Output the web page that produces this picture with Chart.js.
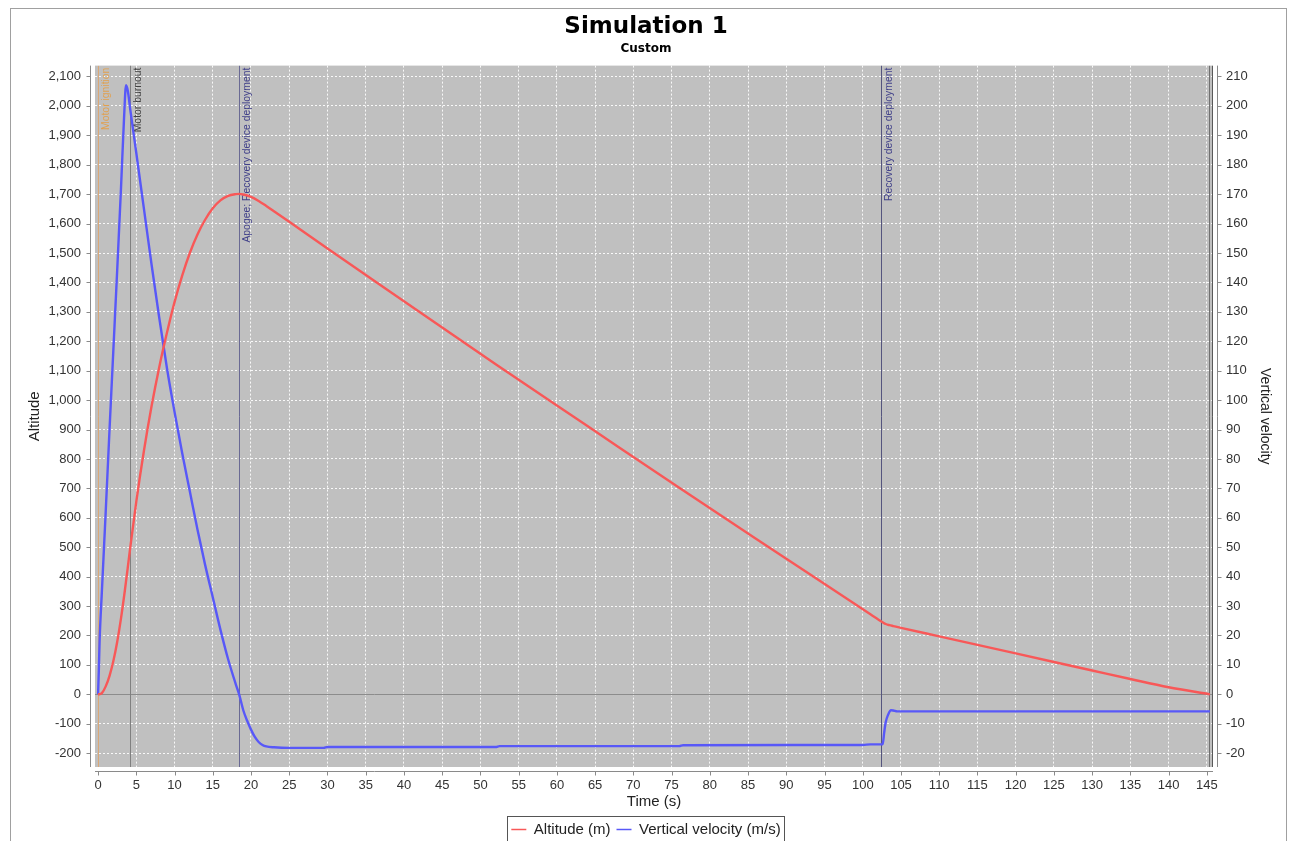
<!DOCTYPE html>
<html>
<head>
<meta charset="utf-8">
<title>Simulation 1</title>
<script src="https://cdn.jsdelivr.net/npm/chart.js@4.4.1/dist/chart.umd.min.js"></script>
<style>
    html, body { margin: 0; padding: 0; background: #fff; overflow: hidden; }
    #wrap { width: 1292px; height: 841px; overflow: hidden; }
</style>
</head>
<body>
<div id="wrap"><canvas id="simChart" width="1292" height="851"></canvas></div>
<script>
// Altitude (m) against time (s)
const altitudeTime = [0, 0.25, 0.5, 1, 1.5, 2, 2.5, 3, 3.5, 4, 4.2, 5, 6, 7, 8, 9, 10, 11, 12, 13, 14, 15, 16, 17, 18, 18.45, 19, 20, 21, 22, 23, 25, 30, 40, 52, 64, 76, 90, 101, 102.6, 103, 103.5, 104, 105, 110, 115, 120, 125, 130, 135, 140, 145.4];
const altitudeValues = [0, 1, 4, 27, 63, 113, 178, 258, 352, 455, 497, 655, 828, 980, 1112, 1228, 1333, 1423, 1500, 1563, 1613, 1652, 1679, 1694, 1700, 1701, 1699, 1691, 1677, 1660, 1642, 1606, 1515, 1336, 1122, 912, 702, 461, 272, 245, 239, 235, 232, 226, 197, 168, 139, 110, 81, 52, 24, 0];

// Vertical velocity (m/s) against time (s)
const velocityTime = [0, 0.1, 0.2, 0.5, 1, 1.5, 2, 2.5, 3, 3.4, 3.66, 3.9, 4.2, 5, 6, 7, 8, 9, 10, 11, 12, 13, 14, 15, 16, 17, 18, 18.45, 19, 19.5, 20, 20.5, 21, 21.5, 22, 23, 25, 29.5, 30, 52, 52.5, 76, 76.5, 100, 101, 102.6, 102.8, 103, 103.3, 103.7, 104, 104.5, 145.4];
const velocityValues = [0, 8, 18, 35, 62, 90, 117, 144, 172, 196, 207, 205, 199, 184, 165, 146, 128, 111, 96, 82, 69, 56, 44, 33, 22, 12, 3.5, 0, -5.5, -9, -12, -14.5, -16.2, -17.2, -17.7, -18.0, -18.2, -18.2, -17.9, -17.9, -17.6, -17.6, -17.3, -17.2, -17.0, -17.0, -13, -9.5, -7, -5.4, -5.5, -5.8, -5.8];

// Flight events
const eventTimes = [0, 4.18, 18.45, 102.4, 145.3, 145.65];
const eventLabels = ['Motor ignition', 'Motor burnout', 'Apogee; Recovery device deployment', 'Recovery device deployment', 'Ground hit', 'Simulation end'];

// Axis ranges and tick steps
const timeRange = [-0.4, 145.8];
const altitudeRange = [-247, 2137];
const velocityRange = [-24.7, 213.7];
const timeStep = 5;
const altitudeStep = 100;
const velocityStep = 10;

const eventStyles = [
    { line: '#d9a878', text: '#e0a050' },
    { line: '#808080', text: '#404040' },
    { line: '#6a6a94', text: '#42428a' },
    { line: '#55557e', text: '#42428a' },
    { line: '#707070', text: '#606060' },
    { line: '#5a5a5a', text: '#606060' },
];

const SANS = '"Liberation Sans", Arial, sans-serif';
Chart.defaults.font.family = SANS;

const plotDecor = {
    id: 'plotDecor',
    beforeDraw(chart) {
        const { ctx, chartArea: a } = chart;
        ctx.save();
        ctx.fillStyle = '#ffffff';
        ctx.fillRect(0, 0, chart.width, chart.height);
        ctx.strokeStyle = '#a0a0a0';
        ctx.lineWidth = 1;
        ctx.strokeRect(10.5, 8.5, 1276, chart.height);
        ctx.fillStyle = '#c0c0c0';
        ctx.fillRect(a.left, a.top, a.right - a.left, a.bottom - a.top);
        ctx.restore();
    },
    beforeDatasetsDraw(chart) {
        const { ctx, chartArea: a, scales } = chart;
        ctx.save();
        ctx.beginPath();
        ctx.rect(a.left, a.top, a.right - a.left, a.bottom - a.top);
        ctx.clip();

        // zero base line
        const y0 = Math.round(scales.y.getPixelForValue(0)) + 0.5;
        ctx.strokeStyle = '#8c8c8c';
        ctx.lineWidth = 1;
        ctx.beginPath();
        ctx.moveTo(a.left, y0);
        ctx.lineTo(a.right, y0);
        ctx.stroke();

        // event markers
        eventTimes.forEach((t, i) => {
            const x = Math.round(scales.x.getPixelForValue(t)) + 0.5;
            ctx.strokeStyle = eventStyles[i].line;
            ctx.beginPath();
            ctx.moveTo(x, a.top);
            ctx.lineTo(x, a.bottom);
            ctx.stroke();

            ctx.save();
            ctx.translate(x + 2, a.top + 2);
            ctx.rotate(-Math.PI / 2);
            ctx.font = '10.4px ' + SANS;
            ctx.fillStyle = eventStyles[i].text;
            ctx.textAlign = 'right';
            ctx.textBaseline = 'top';
            ctx.fillText(eventLabels[i], 0, 0);
            ctx.restore();
        });
        ctx.restore();
    },
    afterDraw(chart) {
        const { ctx, chartArea: a, scales } = chart;
        ctx.save();
        ctx.strokeStyle = '#8a8a8a';
        ctx.lineWidth = 1;
        ctx.beginPath();
        // axis lines, set off from the plot
        ctx.moveTo(a.left - 4.5, a.top);
        ctx.lineTo(a.left - 4.5, a.bottom);
        ctx.moveTo(a.right + 4.5, a.top);
        ctx.lineTo(a.right + 4.5, a.bottom);
        ctx.moveTo(a.left, a.bottom + 4.5);
        ctx.lineTo(a.right, a.bottom + 4.5);
        // tick marks
        scales.y.ticks.forEach((t) => {
            const y = Math.round(scales.y.getPixelForValue(t.value)) + 0.5;
            ctx.moveTo(a.left - 4.5, y);
            ctx.lineTo(a.left - 8.5, y);
        });
        scales.y1.ticks.forEach((t) => {
            const y = Math.round(scales.y1.getPixelForValue(t.value)) + 0.5;
            ctx.moveTo(a.right + 4.5, y);
            ctx.lineTo(a.right + 8.5, y);
        });
        scales.x.ticks.forEach((t) => {
            const x = Math.round(scales.x.getPixelForValue(t.value)) + 0.5;
            ctx.moveTo(x, a.bottom + 4.5);
            ctx.lineTo(x, a.bottom + 8.5);
        });
        ctx.stroke();

        // legend frame
        const boxes = chart.legend.legendHitBoxes;
        if (boxes && boxes.length) {
            const left = boxes[0].left - 4;
            const last = boxes[boxes.length - 1];
            const right = last.left + last.width + 4;
            ctx.strokeStyle = '#555555';
            ctx.strokeRect(Math.round(left) + 0.5, chart.legend.top + 0.5, Math.round(right - left), 60);
        }
        ctx.restore();
    },
};

new Chart(document.getElementById('simChart'), {
    type: 'line',
    data: {
        datasets: [
            {
                label: 'Altitude (m)',
                data: altitudeTime.map((t, i) => ({ x: t, y: altitudeValues[i] })),
                yAxisID: 'y',
                borderColor: '#f85858',
                backgroundColor: '#f85858',
                borderWidth: 2.4,
                pointRadius: 0,
                cubicInterpolationMode: 'monotone',
            },
            {
                label: 'Vertical velocity (m/s)',
                data: velocityTime.map((t, i) => ({ x: t, y: velocityValues[i] })),
                yAxisID: 'y1',
                borderColor: '#5858f8',
                backgroundColor: '#5858f8',
                borderWidth: 2.4,
                pointRadius: 0,
                cubicInterpolationMode: 'monotone',
            },
        ],
    },
    options: {
        responsive: false,
        animation: false,
        layout: { padding: { top: 0, left: 0, right: 0, bottom: 4 } },
        plugins: {
            title: {
                display: true,
                text: 'Simulation 1',
                color: '#000',
                font: { family: '"DejaVu Sans", sans-serif', size: 23, weight: 'bold' },
                padding: { top: 13, bottom: 0 },
            },
            subtitle: {
                display: true,
                text: 'Custom',
                color: '#000',
                font: { family: '"DejaVu Sans", sans-serif', size: 12, weight: 'bold', lineHeight: 1 },
                padding: { top: 2, bottom: 11 },
            },
            legend: {
                position: 'bottom',
                labels: {
                    usePointStyle: true,
                    pointStyle: 'line',
                    pointStyleWidth: 15,
                    padding: 6,
                    color: '#222',
                    font: { size: 15 },
                    generateLabels: (chart) => Chart.defaults.plugins.legend.labels
                        .generateLabels(chart)
                        .map((item) => ({ ...item, lineWidth: 1.5 })),
                },
            },
            tooltip: { enabled: false },
        },
        scales: {
            x: {
                type: 'linear',
                min: timeRange[0],
                max: timeRange[1],
                afterFit: (scale) => { scale.height = 49; },
                grid: { color: 'rgba(255,255,255,0.9)', drawTicks: false },
                border: { display: false, dash: [2, 2] },
                ticks: {
                    stepSize: timeStep,
                    includeBounds: false,
                    autoSkip: false,
                    maxRotation: 0,
                    padding: 11,
                    color: '#333',
                    font: { size: 13 },
                },
                title: {
                    display: true,
                    text: 'Time (s)',
                    color: '#222',
                    font: { size: 15 },
                    padding: { top: 0, bottom: 5 },
                },
            },
            y: {
                position: 'left',
                min: altitudeRange[0],
                max: altitudeRange[1],
                afterFit: (scale) => { scale.width = 95; },
                grid: { color: 'rgba(255,255,255,0.9)', drawTicks: false },
                border: { display: false, dash: [2, 2] },
                ticks: {
                    stepSize: altitudeStep,
                    includeBounds: false,
                    padding: 14,
                    color: '#333',
                    font: { size: 13 },
                },
                title: {
                    display: true,
                    text: 'Altitude',
                    color: '#222',
                    font: { size: 15 },
                    padding: { top: 26, bottom: 0 },
                },
            },
            y1: {
                position: 'right',
                min: velocityRange[0],
                max: velocityRange[1],
                afterFit: (scale) => { scale.width = 79; },
                grid: { drawOnChartArea: false, drawTicks: false },
                border: { display: false },
                ticks: {
                    stepSize: velocityStep,
                    includeBounds: false,
                    padding: 13,
                    color: '#333',
                    font: { size: 13 },
                },
                title: {
                    display: true,
                    text: 'Vertical velocity',
                    color: '#222',
                    font: { size: 14 },
                    padding: { top: 19, bottom: 0 },
                },
            },
        },
    },
    plugins: [plotDecor],
});
</script>
</body>
</html>
